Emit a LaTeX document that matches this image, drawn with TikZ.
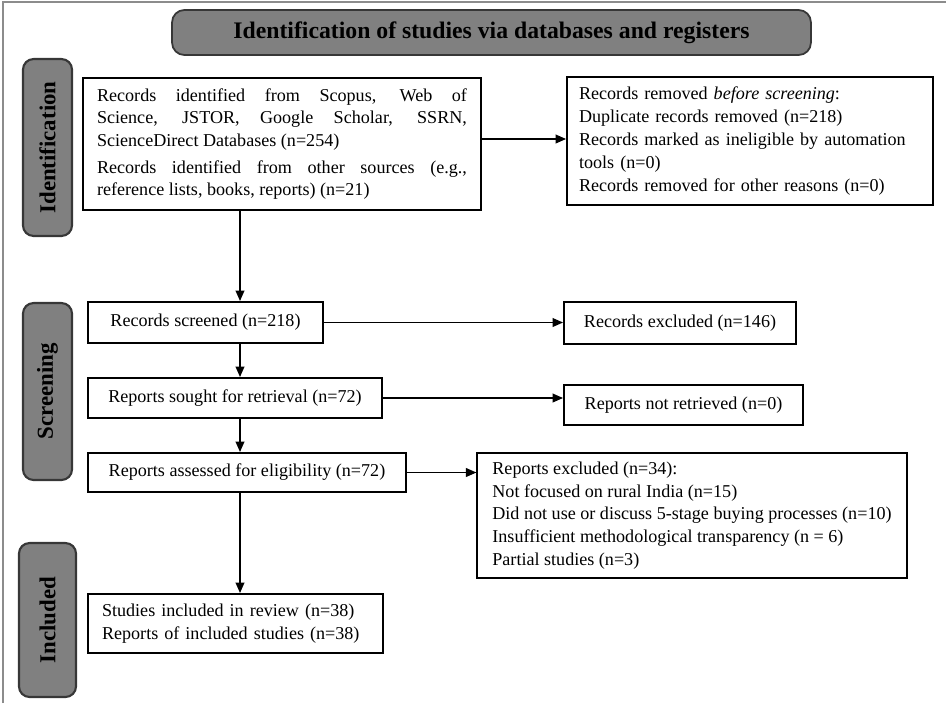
\documentclass[tikz,border=0pt]{standalone}
\usepackage{fontspec}
\setmainfont{Liberation Serif}
\usetikzlibrary{arrows.meta,calc}
\definecolor{stagegray}{RGB}{128,128,128}
\definecolor{edgegray}{RGB}{55,55,55}
\definecolor{framegray}{RGB}{140,140,140}
\tikzset{
    box/.style={draw, line width=1.1pt, inner xsep=0.3cm, inner ysep=3pt,
                align=left, font=\fontsize{10.3}{13}\selectfont},
    stage/.style={draw=edgegray, fill=stagegray, line width=1.2pt,
                  rounded corners=6pt, rotate=90, inner sep=2pt,
                  font=\fontsize{13}{15}\selectfont\bfseries},
    banner/.style={draw=edgegray, fill=stagegray, line width=1pt,
                   rounded corners=7pt, font=\fontsize{13.5}{16}\selectfont\bfseries},
    flow/.style={-{Triangle[length=6pt,width=5pt]}, line width=0.9pt},
    frame/.style={draw=framegray, line width=0.6pt},
}

\begin{document}
\begin{tikzpicture}[x=0.02cm, y=-0.02cm]

    \useasboundingbox (0,0) rectangle (946,703);
    \draw[frame] (3,703) -- (3,2) -- (946,2);

    \node[banner, minimum width=12.78cm, minimum height=0.9cm] (title) at (491.5,32.5)
        {Identification of studies via databases and registers};

    \node[stage, minimum width=3.54cm, minimum height=0.98cm] (identification) at (47.5,147.5) {Identification};
    \node[stage, minimum width=3.54cm, minimum height=0.98cm] (screening) at (47.5,391.5) {Screening};
    \node[stage, minimum width=3.08cm, minimum height=1.14cm] (inclusion) at (47.5,620) {Included};

    \node[box, align=justify, inner xsep=0.28cm, text width=7.4cm, minimum height=2.64cm] (records) at (282,144)
        {Records identified from Scopus, Web of\linebreak Science, JSTOR, Google Scholar, SSRN,\linebreak
         ScienceDirect Databases (n=254)\par\vspace{2pt}
         Records identified from other sources (e.g.,\linebreak reference lists, books, reports) (n=21)};
    \node[box, inner xsep=0.24cm, text width=6.84cm, minimum height=2.56cm] (removed) at (750,141)
        {Records removed \emph{before screening}:\\ Duplicate records removed (n=218)\\
         Records marked as ineligible by automation\\ tools (n=0)\\
         Records removed for other reasons (n=0)};

    \node[box, minimum width=4.7cm, minimum height=0.82cm] (screened) at (205.5,322.5) {Records screened (n=218)};
    \node[box, minimum width=4.64cm, minimum height=0.84cm] (excluded) at (680,323) {Records excluded (n=146)};
    \node[box, minimum width=5.88cm, minimum height=0.8cm] (sought) at (235,398) {Reports sought for retrieval (n=72)};
    \node[box, minimum width=4.78cm, minimum height=0.8cm] (notretrieved) at (683.5,405) {Reports not retrieved (n=0)};
    \node[box, minimum width=6.36cm, minimum height=0.78cm] (assessed) at (247,472.5) {Reports assessed for eligibility (n=72)};
    \node[box, minimum width=8.56cm, minimum height=2.5cm] (reportsexcl) at (692,515.5)
        {Reports excluded (n=34):\\ Not focused on rural India (n=15)\\
         Did not use or discuss 5-stage buying processes (n=10)\\
         Insufficient methodological transparency (n = 6)\\ Partial studies (n=3)};

    \node[box, inner xsep=0.28cm, text width=5.34cm, minimum height=1.18cm] (included) at (235.5,623.5)
        {Studies included in review (n=38)\\ Reports of included studies (n=38)};

    \coordinate (spine) at (240,250);
    \coordinate (idout) at ([yshift=0.1cm]records.east);

    \draw[flow] (spine |- records.south) -- (spine |- screened.north);
    \draw[flow] (spine |- screened.south) -- (spine |- sought.north);
    \draw[flow] (spine |- sought.south) -- (spine |- assessed.north);
    \draw[flow] (spine |- assessed.south) -- (spine |- included.north);

    \draw[flow] (idout) -- (idout -| removed.west);
    \draw[flow] (screened.east) -- (screened.east -| excluded.west);
    \draw[flow] (sought.east) -- (sought.east -| notretrieved.west);
    \draw[flow] (assessed.east) -- (assessed.east -| reportsexcl.west);

\end{tikzpicture}
\end{document}
